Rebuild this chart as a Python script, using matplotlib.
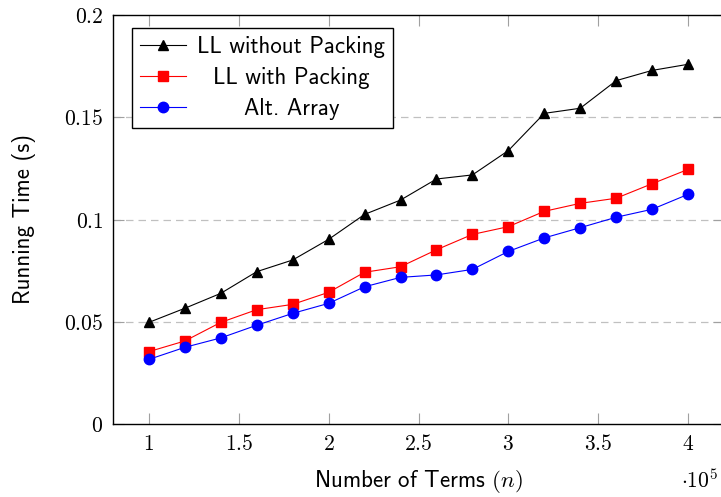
import matplotlib
matplotlib.use("Agg")
import matplotlib.pyplot as plt
from matplotlib.ticker import FuncFormatter

plt.rcParams['mathtext.fontset'] = 'cm'

# number of terms (x 10^5)
terms = [1.0, 1.2, 1.4, 1.6, 1.8, 2.0, 2.2, 2.4, 2.6, 2.8, 3.0, 3.2, 3.4, 3.6, 3.8, 4.0]

# running times (s)
ll_no_pack = [0.0497, 0.0566, 0.0639, 0.0745, 0.0802, 0.0903, 0.1025, 0.1095,
              0.1198, 0.1218, 0.1337, 0.1519, 0.1544, 0.1679, 0.1729, 0.1759]
ll_pack = [0.0354, 0.0406, 0.0497, 0.0559, 0.0585, 0.0644, 0.0742, 0.0769,
           0.0852, 0.0927, 0.0965, 0.1040, 0.1079, 0.1104, 0.1175, 0.1245]
alt_array = [0.0316, 0.0375, 0.0421, 0.0483, 0.0541, 0.0590, 0.0671, 0.0717,
             0.0729, 0.0756, 0.0844, 0.0910, 0.0960, 0.1011, 0.1050, 0.1123]

series_labels = ['LL without Packing', 'LL with Packing', 'Alt. Array']

xticks = [1, 1.5, 2, 2.5, 3, 3.5, 4]
yticks = [0, 0.05, 0.1, 0.15, 0.2]

fig = plt.figure(figsize=(7.21, 4.97), dpi=100)
ax = fig.add_axes([113/721, 73/497, 611/721, 409/497])

ax.plot(terms, ll_no_pack, color='black', lw=0.8, marker='^', ms=7,
        label=series_labels[0], zorder=3)
ax.plot(terms, ll_pack, color='red', lw=0.8, marker='s', ms=7,
        label=series_labels[1], zorder=3)
ax.plot(terms, alt_array, color='blue', lw=0.8, marker='o', ms=7.5,
        label=series_labels[2], zorder=3)

ax.set_xlim(0.8, 4.2)
ax.set_ylim(0, 0.2)
ax.set_xticks(xticks)
ax.set_yticks(yticks)

def fmt(v, pos):
    return '$%g$' % v

ax.xaxis.set_major_formatter(FuncFormatter(fmt))
ax.yaxis.set_major_formatter(FuncFormatter(fmt))
ax.tick_params(direction='in', length=8, width=0.8, color='#a0a0a0',
               labelsize=15.5, top=True, right=True, pad=7)

# dashed horizontal grid
for y in yticks[1:-1]:
    ax.axhline(y, color='#c0c0c0', lw=0.9, dashes=(6, 4), zorder=1)

for s in ax.spines.values():
    s.set_linewidth(1.0)

ax.set_xlabel(r'Number of Terms $(n)$', fontfamily='cmss10', fontsize=16.5, labelpad=10)
ax.set_ylabel('Running Time (s)', fontfamily='cmss10', fontsize=16.5, labelpad=20)
fig.text(700/721, 1 - 480/497, r'$\cdot 10^5$', fontsize=15.5, ha='center', va='center')

leg = ax.legend(loc='upper left', bbox_to_anchor=(19/611, 1 - 13/409),
                borderaxespad=0, fancybox=False, edgecolor='black', framealpha=1,
                prop={'family': 'cmss10', 'size': 16.5}, handlelength=2.0,
                labelspacing=0.4, borderpad=0.35, handletextpad=0.5)
leg.get_frame().set_linewidth(1.0)

# center the legend entries like pgfplots
fig.canvas.draw()
texts = leg.get_texts()
widths = [t.get_window_extent().width for t in texts]
wmax = max(widths)
for t, w in zip(texts, widths):
    t.set_position(((wmax - w) / 2, 0))

fig.savefig('out.png', dpi=100)
